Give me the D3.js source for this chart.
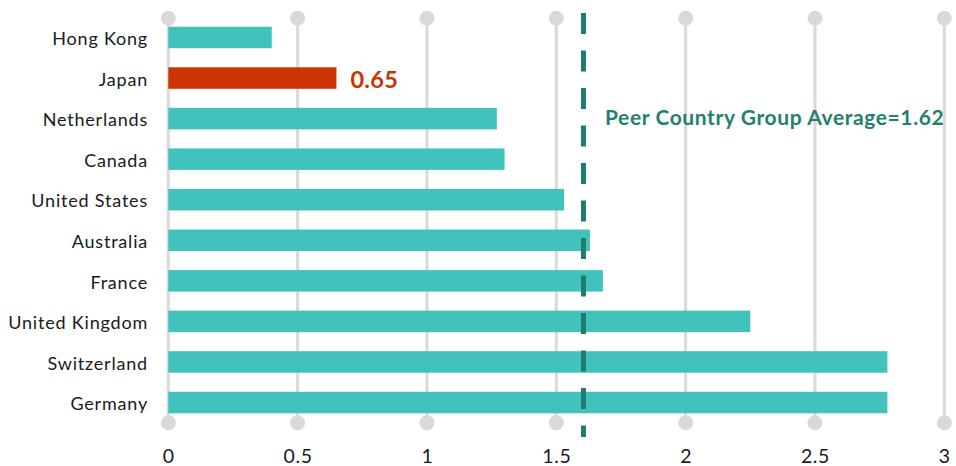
<!DOCTYPE html>
<html><head><meta charset="utf-8">
<script src="https://cdn.jsdelivr.net/npm/d3@7"></script>
<style>body{margin:0;background:#fff;}svg{display:block;}</style>
</head><body>
<svg id="chart" width="956" height="466"></svg>
<script>
const countries = ["Hong Kong","Japan","Netherlands","Canada","United States","Australia","France","United Kingdom","Switzerland","Germany"];
const values = [0.40,0.65,1.27,1.30,1.53,1.63,1.68,2.25,2.78,2.78];
const highlight = "Japan";
const xTicks = [0,0.5,1,1.5,2,2.5,3];
const avgValue = 1.62;
const avgLinePos = 1.605;

const svg = d3.select("#chart");
const x = d3.scaleLinear().domain([0,3]).range([168.3,944.3]);
const y = d3.scaleBand().domain(countries).range([17.2,422.8]).padding(0);
const barH = 21.5;
const font = "Lato, 'Open Sans', sans-serif";

// gridlines
const grid = svg.append("g");
grid.selectAll("line").data(xTicks).join("line")
  .attr("x1",d=>x(d)).attr("x2",d=>x(d)).attr("y1",18.3).attr("y2",422.7)
  .attr("stroke","#d9d9d9").attr("stroke-width",3);
grid.selectAll("circle.t").data(xTicks).join("circle").attr("class","t")
  .attr("cx",d=>x(d)).attr("cy",18.3).attr("r",7.5).attr("fill","#d9d9d9");
grid.selectAll("circle.b").data(xTicks).join("circle").attr("class","b")
  .attr("cx",d=>x(d)).attr("cy",422.7).attr("r",7.5).attr("fill","#d9d9d9");

// bars
svg.append("g").selectAll("rect").data(countries).join("rect")
  .attr("x",x(0)).attr("y",d=>y(d)+y.bandwidth()/2-barH/2)
  .attr("width",(d,i)=>x(values[i])-x(0)).attr("height",barH)
  .attr("fill",d=>d===highlight?"#cc3300":"#42c2bd");

// highlight label
const hi = countries.indexOf(highlight);
svg.append("text").attr("x",x(values[hi])+14).attr("y",y(highlight)+y.bandwidth()/2+1.5)
  .attr("dy","0.36em").attr("font-family",font).attr("font-weight","bold")
  .attr("font-size",23.5).attr("fill","#cc3300").attr("letter-spacing","0.3px").text(values[hi].toFixed(2));

// average line
svg.append("line").attr("x1",x(avgLinePos)).attr("x2",x(avgLinePos)).attr("y1",13).attr("y2",437)
  .attr("stroke","#1f7d70").attr("stroke-width",5).attr("stroke-dasharray","21 16.5");
svg.append("text").attr("x",605).attr("y",125).attr("font-family",font).attr("font-weight","bold")
  .attr("font-size",21).attr("letter-spacing","0.6px").attr("fill","#23806f")
  .text("Peer Country Group Average=" + avgValue.toFixed(2));

// y labels
const yAxis = d3.axisLeft(y).tickSize(0).tickPadding(0);
const yg = svg.append("g").attr("transform","translate(148,2)").call(yAxis);
yg.select(".domain").remove();
yg.selectAll("text").attr("font-family",font).attr("font-size",18).attr("fill","#1a1a1a").attr("letter-spacing","0.8px");

// x labels
const xAxis = d3.axisBottom(x).tickValues(xTicks).tickSize(0).tickPadding(0).tickFormat(d3.format("~g"));
const xg = svg.append("g").attr("transform","translate(0,449)").call(xAxis);
xg.select(".domain").remove();
xg.selectAll("text").attr("font-family",font).attr("font-size",19.5).attr("fill","#1a1a1a")
  .attr("letter-spacing","0.6px").attr("dy","0.72em");
</script>
</body></html>
